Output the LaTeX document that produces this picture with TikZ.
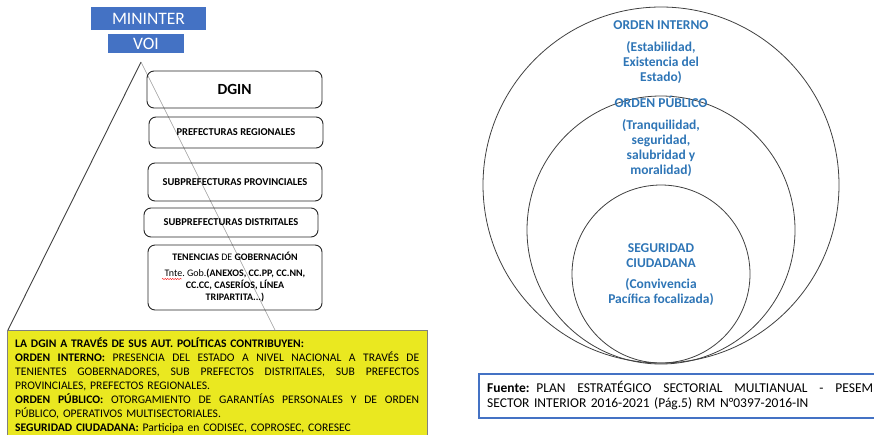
\documentclass[tikz,border=0pt]{standalone}
\usepackage{fontspec}
\setmainfont{Carlito}
\usetikzlibrary{decorations.pathmorphing}
\definecolor{offblue}{RGB}{68,114,196}
\definecolor{txtblue}{RGB}{46,117,182}
\definecolor{yel}{RGB}{234,232,32}
\newcommand\jline[2]{\makebox[#1][s]{\spaceskip=\fontdimen2\font plus 1fil\relax #2}}
\begin{document}
\begin{tikzpicture}[x=1pt,y=-1pt,
  bluebox/.style={fill=offblue, text=white, inner sep=0pt, font=\fontsize{17.5}{20}\selectfont},
  rbox/.style={draw=black!85, rounded corners=7pt, line width=0.9pt, inner sep=0pt, font=\bfseries\fontsize{10.5}{12}\selectfont, align=center},
  ring/.style={circle, draw=black!75, line width=0.8pt, inner sep=0pt},
  ctext/.style={text=txtblue, font=\bfseries\fontsize{13.5}{14.8}\selectfont, align=center, inner sep=0pt, anchor=base},
  ytext/.style={font=\fontsize{11.6}{14}\selectfont, inner sep=0pt, align=left, text width=404pt}]
\useasboundingbox (0,0) rectangle (874,434);

% top blue boxes
\node[bluebox, minimum width=115pt, minimum height=23pt] (mininter) at (148.5,18.5) {MININTER};
\node[bluebox, minimum width=76pt, minimum height=19pt] (voi) at (146,43.5) {VOI};

% yellow box
\node[draw=black!50, fill=yel, line width=0.8pt, minimum width=420pt, minimum height=110pt, anchor=north west, inner sep=0pt] (ybox) at (7,330) {};
\node[ytext, anchor=base west] (ytxt) at (15,347) {%
\textbf{LA DGIN A TRAVÉS DE SUS AUT. POLÍTICAS CONTRIBUYEN:}\\
\jline{404pt}{\textbf{ORDEN INTERNO:} PRESENCIA DEL ESTADO A NIVEL NACIONAL A TRAVÉS DE}\\
\jline{404pt}{TENIENTES GOBERNADORES, SUB PREFECTOS DISTRITALES, SUB PREFECTOS}\\
PROVINCIALES, PREFECTOS REGIONALES.\\
\jline{404pt}{\textbf{ORDEN PÚBLICO:} OTORGAMIENTO DE GARANTÍAS PERSONALES Y DE ORDEN}\\
PÚBLICO, OPERATIVOS MULTISECTORIALES.\\
\textbf{SEGURIDAD CIUDADANA:} Participa en CODISEC, COPROSEC, CORESEC};

% triangle
\coordinate (apex) at (141,62);
\coordinate (tl) at (8,330);
\coordinate (tr) at (275,330);
\draw[black!75, line width=0.9pt] (apex) -- (tl);
\draw[black!40, line width=0.6pt] (apex) -- (tr);

% rounded boxes
\node[rbox, minimum width=175pt, minimum height=37pt, font=\bfseries\fontsize{15.5}{18}\selectfont] (dgin) at (234.5,89.5) {DGIN};
\node[rbox, minimum width=174pt, minimum height=31pt] (preg) at (236,132.5) {PREFECTURAS REGIONALES};
\node[rbox, minimum width=174pt, minimum height=38pt] (sprov) at (235,182) {SUBPREFECTURAS PROVINCIALES};
\node[rbox, minimum width=174pt, minimum height=29pt] (sdist) at (231,222.5) {SUBPREFECTURAS DISTRITALES};
\node[rbox, minimum width=174pt, minimum height=65pt, font=\fontsize{10}{12.3}\selectfont] (ten) at (235,277.5) {%
\textbf{TENENCIAS} DE \textbf{GOBERNACIÓN}\\[3pt]
Tnte.\ Gob.\textbf{(ANEXOS, CC.PP, CC.NN,}\\
\textbf{CC.CC, CASERÍOS, LÍNEA}\\
\textbf{TRIPARTITA...)}};
\draw[red, line width=0.4pt, decorate, decoration={snake, amplitude=0.6pt, segment length=2.5pt}] (162,279) -- (182,279);

% circles
\node[ring, minimum size=356pt] (oi) at (661,185) {};
\node[ring, minimum size=268pt] (op) at (661,230) {};
\node[ring, minimum size=178pt] (sc) at (661,274) {};

\node[ctext] (oit) at (661,29.5) {ORDEN INTERNO};
\node[ctext] (oid) at (661,81) {(Estabilidad,\\Existencia del\\Estado)};
\node[ctext] (opt) at (661,107.5) {ORDEN PÚBLICO};
\node[ctext] (opd) at (661,174) {(Tranquilidad,\\seguridad,\\salubridad y\\moralidad)};
\node[ctext] (sct) at (661,267.5) {SEGURIDAD\\CIUDADANA};
\node[ctext] (scd) at (661,303) {(Convivencia\\Pacífica focalizada)};

% source box
\node[draw=offblue, line width=1.5pt, minimum width=402pt, minimum height=44pt, anchor=north west, inner sep=0pt] (fbox) at (478,373) {};
\node[font=\fontsize{13.5}{15}\selectfont, inner sep=0pt, align=left, text width=386pt, anchor=base west] (ftxt) at (487,392.5) {%
\jline{386pt}{\textbf{Fuente:} PLAN ESTRATÉGICO SECTORIAL MULTIANUAL - PESEM}\\
SECTOR INTERIOR 2016-2021 (Pág.5) RM N°0397-2016-IN};
\end{tikzpicture}
\end{document}
